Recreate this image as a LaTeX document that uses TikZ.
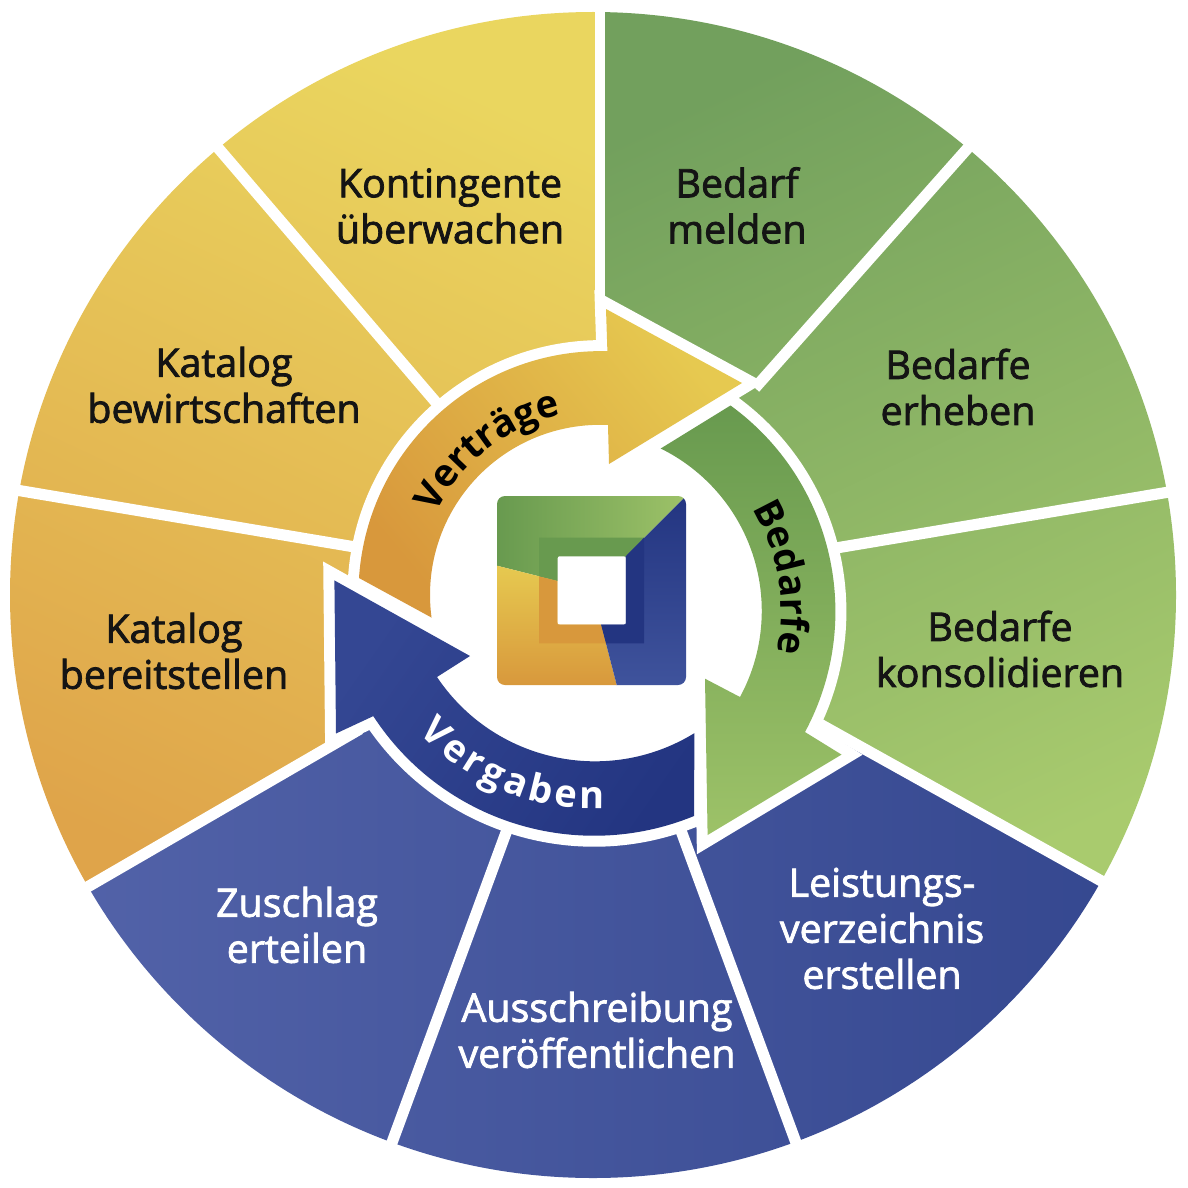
\documentclass[tikz,border=0pt]{standalone}
\usepackage{fontspec}
\usetikzlibrary{decorations.text}
\setmainfont{Open Sans}
\newfontfamily\labfont{Open Sans}[FakeBold=2]
\newfontfamily\arcfont{Open Sans}
\definecolor{ylTop}{HTML}{EAD65F}
\definecolor{ylBot}{HTML}{DFA44A}
\definecolor{grTop}{HTML}{72A05D}
\definecolor{grBot}{HTML}{A9CB6E}
\definecolor{blL}{HTML}{5464AA}
\definecolor{blR}{HTML}{33468E}
\definecolor{aOr}{HTML}{D8983C}
\definecolor{aMid}{HTML}{DFAC42}
\definecolor{aYl}{HTML}{E6C950}
\definecolor{aGrD}{HTML}{689A4F}
\definecolor{aGrL}{HTML}{9DC268}
\definecolor{aBlD}{HTML}{233581}
\definecolor{aBlL}{HTML}{344793}
\definecolor{lgBl}{HTML}{3F539C}
\tikzset{
  gapline/.style={white,line width=5.6pt},
  seg/.style={font=\labfont\fontsize{19.7}{23}\selectfont,align=center,text=black!92,inner sep=0pt},
  segw/.style={seg,text=white},
  halo/.style={draw=white,line width=11pt,line join=miter,miter limit=10},
  yarrowpath/.style={insert path={(359,578) arc[start angle=183.8,end angle=271.4,radius=243] -- (606,309) -- (742,383) -- (609,464) -- (608,425) arc[start angle=272.7,end angle=172.3,radius=170] -- cycle}},
  garrowpath/.style={insert path={(730.5,405.5) arc[start angle=-54,end angle=28.3,radius=254.5] -- (841.5,754.6) -- (707.6,835) -- (705,678.7) -- (740,697) arc[start angle=28.4,end angle=-63.8,radius=181] -- cycle}},
  barrowpath/.style={insert path={(694,816) arc[start angle=67.7,end angle=146.9,radius=263.5] -- (336,733.5) -- (334.4,580.4) -- (470,656) -- (437,677) arc[start angle=146.2,end angle=58.4,radius=190] -- cycle}},
}
\begin{document}
\begin{tikzpicture}[x=0.5pt,y=-0.5pt]
\useasboundingbox (0,0) rectangle (1188,1188);
\fill[white] (0,0) rectangle (1188,1188);
% sectors
\begin{scope}
\clip (593,595) circle[radius=583];
\shade[top color=ylTop,bottom color=ylBot,shading angle=-25] (600,590) -- (600,0) -- (0,0) -- (0,937.6) -- cycle;
\shade[top color=grTop,bottom color=grBot,shading angle=25] (600,602) -- (600,0) -- (1188,0) -- (1188,929) -- cycle;
\shade[left color=blL,right color=blR] (600,590) -- (0,937.6) -- (0,1188) -- (1188,1188) -- (1188,929) -- (600,602) -- cycle;
\end{scope}
% gaps
\draw[gapline,line width=4.6pt] (600,0) -- (600,300);
\draw[gapline] (975,140) -- (755,388);
\draw[gapline] (1175,491) -- (836,548);
\draw[gapline] (1105,883) -- (800,713);
\draw[gapline] (798,1148) -- (680,828);
\draw[gapline] (390,1148) -- (507,830);
\draw[gapline] (84,889) -- (360,729);
\draw[gapline] (10,489) -- (355,547);
\draw[gapline] (213,142) -- (440,407);
% centre
\fill[white] (594,594) circle[radius=205];
% arrow halos
\path[halo,yarrowpath];
\path[halo,garrowpath];
\path[halo,barrowpath];
% arrows
\shade[yarrowpath,top color=aYl,middle color=aMid,bottom color=aOr,shading angle=-50];
\shade[garrowpath,top color=aGrD,bottom color=aGrL];
\shade[barrowpath,top color=aBlL,bottom color=aBlD,shading angle=55];
% logo
\begin{scope}
\clip[rounded corners=4pt] (497,496) rectangle (686,685);
\shade[left color=aGrD,right color=aGrL] (497,496) -- (686,496) -- (625.7,556.3) -- (557.7,581) -- (497,565.7) -- cycle;
\shade[top color=aYl,bottom color=aOr] (497,565.7) -- (557.7,581) -- (557.7,624.3) -- (601,624.3) -- (617,686) -- (497,686) -- cycle;
\shade[top color=aBlD,bottom color=lgBl] (686,496) -- (625.7,556.3) -- (625.7,624.3) -- (601,624.3) -- (617,686) -- (686,686) -- cycle;
\end{scope}
\fill[aGrD] (539,556.3) -- (539,537.7) -- (644,537.7) -- (625.7,556.3) -- (557.7,581) -- (539,576.4) -- cycle;
\fill[aOr] (539,576.4) -- (557.7,581) -- (557.7,624.3) -- (601,624.3) -- (606,643.3) -- (539,643.3) -- cycle;
\fill[aBlD] (644,537.7) -- (625.7,556.3) -- (625.7,624.3) -- (601,624.3) -- (606,643.3) -- (644,643.3) -- cycle;
\fill[white,rounded corners=1pt] (557.7,556.3) rectangle (625.7,624.3);
% wedge labels
\node[seg] (n1) at (450,206) {Kontingente\\überwachen};
\node[seg] (n2) at (737,205.5) {Bedarf\\melden};
\node[seg] (n3) at (958,387) {Bedarfe\\erheben};
\node[seg] (n4) at (1000,649) {Bedarfe\\konsolidieren};
\node[segw] (n5) at (882,928.5) {Leistungs-\\verzeichnis\\erstellen};
\node[segw] (n6) at (597,1030) {Ausschreibung\\veröffentlichen};
\node[segw] (n7) at (297,925) {Zuschlag\\erteilen};
\node[seg] (n8) at (174,651) {Katalog\\bereitstellen};
\node[seg] (n9) at (224,385) {Katalog\\bewirtschaften};
% arc labels
\path[decorate,decoration={text along path,text align=center,text={|\arcfont\bfseries\fontsize{19}{23}\selectfont|Verträge}}]
  (600,594) ++(197:183) arc[start angle=197,end angle=267,radius=183];
\path[decorate,decoration={text along path,text align=center,text={|\arcfont\bfseries\fontsize{19}{23}\selectfont|Bedarfe}}]
  (581,611) ++(-40:200) arc[start angle=-40,end angle=21,radius=200];
\path[decorate,decoration={text along path,text align=center,text color=white,text={|\arcfont\bfseries\fontsize{19}{23}\selectfont|V{\kern1.93pt}e{\kern1.93pt}r{\kern1.93pt}g{\kern1.93pt}a{\kern1.93pt}b{\kern1.93pt}e{\kern1.93pt}n}}]
  (594,572) ++(151:237) arc[start angle=151,end angle=74,radius=237];
\end{tikzpicture}
\end{document}
